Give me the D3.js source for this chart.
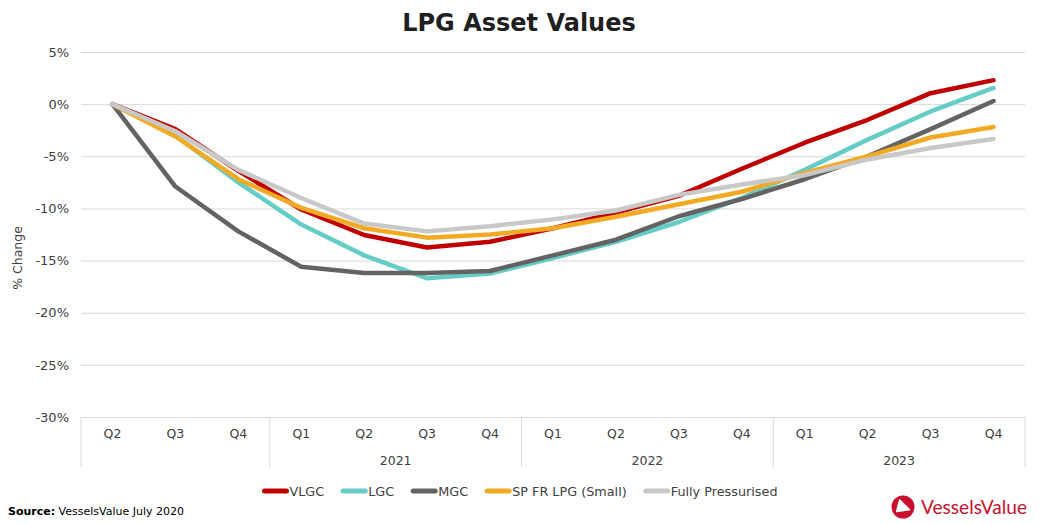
<!DOCTYPE html>
<html>
<head>
<meta charset="utf-8">
<script src="https://cdn.jsdelivr.net/npm/d3@7"></script>
<style>
  html, body { margin: 0; padding: 0; background: #fff; }
  svg { display: block; font-family: "DejaVu Sans", Verdana, sans-serif; }
</style>
</head>
<body>
<svg id="chart" width="1039" height="524"></svg>
<script>
// ---- Data ----
const quarters = ["Q2","Q3","Q4","Q1","Q2","Q3","Q4","Q1","Q2","Q3","Q4","Q1","Q2","Q3","Q4"];
const yearLabels = ["", "2021", "2022", "2023"];
const yearStarts = [0, 3, 7, 11];
const yearEnds   = [3, 7, 11, 15];
const yTicks = [5, 0, -5, -10, -15, -20, -25, -30];

const seriesNames = ["VLGC", "LGC", "MGC", "SP FR LPG (Small)", "Fully Pressurised"];
const vlgc = [0, -2.4, -6.4, -10.1, -12.55, -13.75, -13.2, -11.9, -10.4, -8.8, -6.2, -3.7, -1.5, 1.05, 2.3];
const lgc  = [0, -3.0, -7.5, -11.55, -14.5, -16.7, -16.25, -14.75, -13.2, -11.3, -9.0, -6.3, -3.4, -0.7, 1.55];
const mgc  = [0, -7.9, -12.2, -15.6, -16.2, -16.2, -16.0, -14.5, -13.0, -10.75, -9.1, -7.2, -5.0, -2.4, 0.3];
const spfr = [0, -3.1, -7.2, -9.95, -11.9, -12.8, -12.5, -11.9, -10.8, -9.6, -8.4, -6.6, -5.0, -3.2, -2.2];
const fullyP = [0, -2.6, -6.3, -9.0, -11.45, -12.2, -11.7, -11.05, -10.2, -8.7, -7.7, -6.8, -5.3, -4.2, -3.35];
const seriesColors = ["#C00000", "#66CCC6", "#636363", "#F2AA25", "#C8C8C8"];

const seriesValues = [vlgc, lgc, mgc, spfr, fullyP];

// ---- Layout ----
const svg = d3.select("#chart");
const plotLeft = 81, plotRight = 1025, plotTop = 52, plotBottom = 417;

const x = d3.scaleBand().domain(d3.range(quarters.length)).range([plotLeft, plotRight]).paddingInner(0).paddingOuter(0);
const y = d3.scaleLinear().domain([-30, 5]).range([plotBottom, plotTop]);
const xc = i => x(i) + x.bandwidth() / 2;

// Title
svg.append("text")
  .attr("x", 519).attr("y", 31)
  .attr("text-anchor", "middle")
  .attr("font-size", 24).attr("font-weight", "bold")
  .attr("fill", "#1f1f1f")
  .text("LPG Asset Values");

// Gridlines + y axis
const yAxis = d3.axisLeft(y).tickValues(yTicks).tickSize(-(plotRight - plotLeft)).tickFormat(d => d + "%").tickPadding(12);
const gy = svg.append("g").attr("transform", `translate(${plotLeft},0)`).call(yAxis);
gy.select(".domain").remove();
gy.selectAll(".tick line").attr("stroke", "#D9D9D9").attr("stroke-width", 1);
gy.selectAll(".tick text").attr("font-size", 13).attr("fill", "#404040")
  .attr("font-family", "DejaVu Sans, Verdana, sans-serif");

// y axis title
svg.append("text")
  .attr("transform", "translate(22,258) rotate(-90)")
  .attr("text-anchor", "middle")
  .attr("font-size", 12.5).attr("fill", "#404040")
  .text("% Change");

// x axis: quarter labels
const xAxis = d3.axisBottom(x).tickSize(0).tickFormat(i => quarters[i]).tickPadding(12);
const gx = svg.append("g").attr("transform", `translate(0,${plotBottom})`).call(xAxis);
gx.select(".domain").remove();
gx.selectAll(".tick text").attr("font-size", 12.5).attr("fill", "#404040")
  .attr("font-family", "DejaVu Sans, Verdana, sans-serif");

// year separators
const sepX = [plotLeft].concat(yearEnds.map(e => e === quarters.length ? plotRight : x(e)));
svg.append("g").selectAll("line").data(sepX).join("line")
  .attr("x1", d => d).attr("x2", d => d)
  .attr("y1", plotBottom).attr("y2", 467)
  .attr("stroke", "#D9D9D9").attr("stroke-width", 1);

// year labels
svg.append("g").selectAll("text").data(yearLabels).join("text")
  .attr("x", (d, i) => {
    const a = x(yearStarts[i]);
    const b = yearEnds[i] === quarters.length ? plotRight : x(yearEnds[i]);
    return (a + b) / 2;
  })
  .attr("y", 464.5)
  .attr("text-anchor", "middle")
  .attr("font-size", 12.5).attr("fill", "#404040")
  .text(d => d);

// Lines
const line = d3.line().x((d, i) => xc(i)).y(d => y(d));
svg.append("g").selectAll("path").data(seriesValues).join("path")
  .attr("d", d => line(d))
  .attr("fill", "none")
  .attr("stroke", (d, i) => seriesColors[i])
  .attr("stroke-width", 4.5)
  .attr("stroke-linecap", "round")
  .attr("stroke-linejoin", "round");

// Legend
const legend = svg.append("g");
let lx = 0;
const markerLen = 26, gap = 17;
seriesNames.forEach((name, i) => {
  const g = legend.append("g");
  g.append("line")
    .attr("x1", lx + 2).attr("x2", lx + markerLen - 2)
    .attr("y1", 491).attr("y2", 491)
    .attr("stroke", seriesColors[i]).attr("stroke-width", 5).attr("stroke-linecap", "round");
  const t = g.append("text")
    .attr("x", lx + markerLen + 1).attr("y", 495.5)
    .attr("font-size", 12.8).attr("fill", "#404040")
    .text(name);
  lx += markerLen + 1 + t.node().getComputedTextLength() + gap;
});
const legendW = lx - gap;
legend.attr("transform", `translate(${520 - legendW / 2},0)`);

// Source
const src = svg.append("text").attr("x", 8).attr("y", 515).attr("font-size", 11).attr("fill", "#000");
src.append("tspan").attr("font-weight", "bold").text("Source:");
src.append("tspan").text(" VesselsValue July 2020");

// Logo
const logo = svg.append("g").attr("transform", "translate(903,507)");
logo.append("circle").attr("r", 11.5).attr("fill", "#C8102E");
logo.append("path").attr("d", "M-5,-6 L7,1 L-5,6 Z").attr("fill", "#fff")
  .attr("stroke", "#fff").attr("stroke-width", 1.5).attr("stroke-linejoin", "round")
  .attr("transform", "rotate(15)");
svg.append("text")
  .attr("x", 921).attr("y", 514)
  .attr("font-family", "Lato, 'Open Sans', sans-serif")
  .attr("font-size", 20).attr("fill", "#C8102E")
  .attr("textLength", 106).attr("lengthAdjust", "spacingAndGlyphs")
  .text("VesselsValue");
</script>
</body>
</html>
